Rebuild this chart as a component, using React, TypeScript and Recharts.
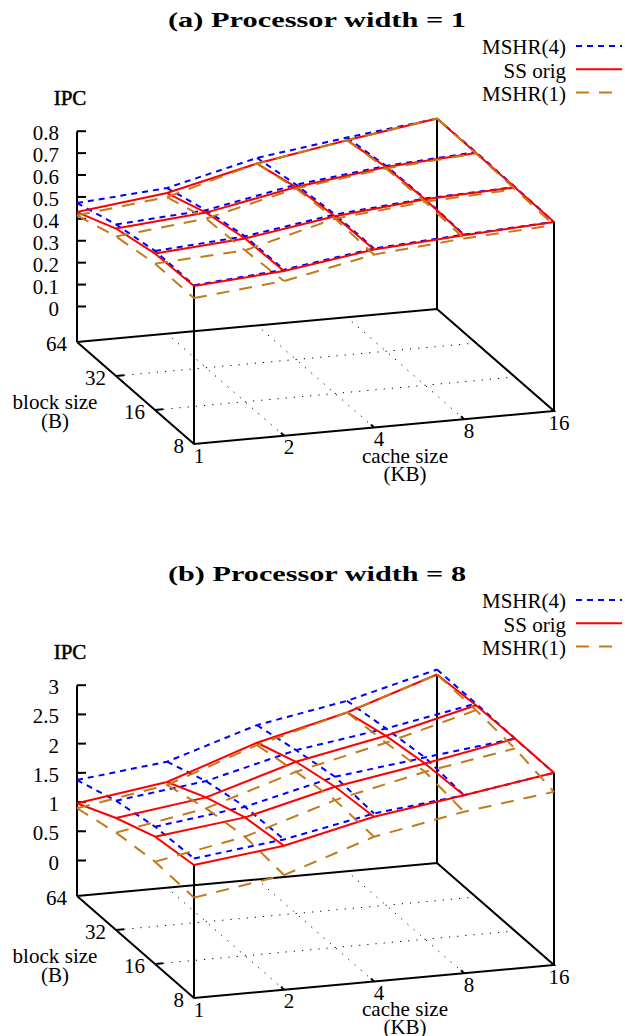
import { ScatterChart, Scatter, XAxis, YAxis } from "recharts"

const blockLabels = ["64", "32", "16", "8"]
const cacheLabels = ["1", "2", "4", "8", "16"]
const legendLabels = ["MSHR(4)", "SS orig", "MSHR(1)"]
const ticksA = ["0", "0.1", "0.2", "0.3", "0.4", "0.5", "0.6", "0.7", "0.8"]
const ticksB = ["0", "0.5", "1", "1.5", "2", "2.5", "3"]
const tickValuesA = [0, 0.1, 0.2, 0.3, 0.4, 0.5, 0.6, 0.7, 0.8]
const tickValuesB = [0, 0.5, 1, 1.5, 2, 2.5, 3]

// IPC, one row per block size (64, 32, 16, 8), one column per cache size (1..16)
const mshr4A = [
  [0.472, 0.503, 0.603, 0.658, 0.707],
  [0.53, 0.557, 0.636, 0.684, 0.709],
  [0.564, 0.593, 0.655, 0.69, 0.705],
  [0.562, 0.596, 0.655, 0.681, 0.701],
]
const origA = [
  [0.431, 0.48, 0.577, 0.646, 0.707],
  [0.511, 0.546, 0.625, 0.679, 0.705],
  [0.552, 0.583, 0.647, 0.687, 0.703],
  [0.559, 0.59, 0.65, 0.678, 0.701],
]
const mshr1A = [
  [0.416, 0.462, 0.577, 0.646, 0.707],
  [0.475, 0.519, 0.618, 0.672, 0.703],
  [0.506, 0.529, 0.636, 0.675, 0.695],
  [0.504, 0.544, 0.627, 0.663, 0.686],
]
const mshr4B = [
  [1.377, 1.55, 2.035, 2.309, 2.703],
  [1.605, 1.8, 2.188, 2.417, 2.703],
  [1.742, 1.942, 2.314, 2.503, 2.686],
  [1.781, 1.965, 2.268, 2.44, 2.681],
]
const origB = [
  [0.979, 1.202, 1.733, 2.11, 2.618],
  [1.309, 1.521, 1.989, 2.292, 2.675],
  [1.571, 1.76, 2.143, 2.4, 2.686],
  [1.668, 1.857, 2.211, 2.44, 2.681],
]
const mshr1B = [
  [0.894, 1.151, 1.693, 2.11, 2.618],
  [1.059, 1.333, 1.818, 2.173, 2.59],
  [1.144, 1.43, 1.915, 2.258, 2.516],
  [1.11, 1.355, 1.87, 2.156, 2.356],
]

const BLUE = "#0000ff"
const RED = "#ff0000"
const BROWN = "#c47a1a"
const BLUE_DASH = "6 5"
const BROWN_DASH = "13 10"
const SERIF = "'Liberation Serif', serif"
const LINE = 2

type Pt = { x: number; y: number }

const NoDot = () => <g />

const TextDot = (props: any) => {
  const p = props.payload
  return (
    <text
      x={props.cx}
      y={props.cy}
      textAnchor={p.anchor}
      dominantBaseline="central"
      fontFamily={SERIF}
      fontSize={p.size || 21}
      fontWeight={p.weight || "normal"}
      textLength={p.fit}
      lengthAdjust="spacingAndGlyphs"
      stroke={p.heavy ? "#000" : undefined}
      strokeWidth={p.heavy ? 0.5 : undefined}
      fill="#000"
    >
      {p.label}
    </text>
  )
}

function seg(key: string, pts: Pt[], stroke: string, width: number, dash?: string) {
  return (
    <Scatter
      key={key}
      data={pts}
      fill="none"
      shape={NoDot}
      line={{ stroke, strokeWidth: width, strokeDasharray: dash }}
      isAnimationActive={false}
    />
  )
}

function Panel({ title, top, height, zMax, ticks, tickValues, series, cacheShift }: {
  title: string
  top: number
  height: number
  zMax: number
  ticks: string[]
  tickValues: number[]
  series: number[][][]
  cacheShift: number
}) {
  // oblique projection of the gnuplot view onto the plot plane
  const floor = (i: number, j: number): Pt => ({ x: 77 + 90 * i + 39 * j, y: 342 - 8.25 * i + 34 * j })
  const at = (i: number, j: number, z: number): Pt => {
    const f = floor(i, j)
    return { x: f.x, y: f.y - 35.5 - (z / zMax) * 175.3 }
  }
  const orig = series[1]

  const texts: any[] = [
    { x: 317, y: 19.5, label: title, anchor: "middle", weight: "bold", fit: 298 },
    { x: 70, y: 97.5, label: "IPC", anchor: "middle", heavy: true },
    { x: 55, y: 402, label: "block size", anchor: "middle", fit: 85 },
    { x: 55, y: 421, label: "(B)", anchor: "middle" },
    { x: 405, y: 456 - cacheShift, label: "cache size", anchor: "middle", fit: 86 },
    { x: 405, y: 474 - cacheShift, label: "(KB)", anchor: "middle" },
  ]
  legendLabels.forEach((label, k) => texts.push({ x: 566, y: 47 + 23.5 * k, label, anchor: "end" }))
  ticks.forEach((label, k) => {
    const p = at(0, 0, tickValues[k])
    texts.push({ x: p.x - 18, y: p.y + 2, label, anchor: "end" })
  })
  blockLabels.forEach((label, j) => {
    const p = floor(0, j)
    texts.push({ x: p.x - 10, y: p.y + 2, label, anchor: "end" })
  })
  cacheLabels.forEach((label, i) => {
    const p = floor(i, 3)
    texts.push({ x: p.x + 5, y: p.y + 11.5, label, anchor: "middle" })
  })

  const marks: any[] = []
  // dotted floor grid
  for (let i = 1; i < 4; i++) marks.push(seg(`gc${i}`, [floor(i, 3), floor(i, 0)], "#000", 1, "1.2 7"))
  for (let j = 1; j < 3; j++) marks.push(seg(`gr${j}`, [floor(0, j), floor(4, j)], "#000", 1, "1.2 7"))
  // box
  marks.push(seg("fl", [floor(0, 0), floor(0, 3), floor(4, 3), floor(4, 0), floor(0, 0)], "#000", LINE))
  marks.push(seg("zaxis", [floor(0, 0), at(0, 0, zMax)], "#000", LINE))
  marks.push(seg("v1", [floor(0, 3), at(0, 3, orig[3][0])], "#000", LINE))
  marks.push(seg("v2", [floor(4, 0), at(4, 0, orig[0][4])], "#000", LINE))
  marks.push(seg("v3", [floor(4, 3), at(4, 3, orig[3][4])], "#000", LINE))
  // ticks
  tickValues.forEach((v, k) => {
    const p = at(0, 0, v)
    marks.push(seg(`zt${k}`, [p, { x: p.x + 9, y: p.y }], "#000", LINE))
  })
  for (let j = 1; j < 3; j++) {
    const p = floor(0, j)
    marks.push(seg(`bt${j}`, [p, { x: p.x + 8, y: p.y - 0.7 }], "#000", LINE))
  }
  for (let i = 1; i < 4; i++) {
    const p = floor(i, 3)
    marks.push(seg(`ct${i}`, [p, { x: p.x - 3, y: p.y - 3 }], "#000", LINE))
  }
  // surfaces
  const styles: [string, string | undefined][] = [[BLUE, BLUE_DASH], [RED, undefined], [BROWN, BROWN_DASH]]
  series.forEach((grid, s) => {
    const [color, dash] = styles[s]
    grid.forEach((row, j) => {
      marks.push(seg(`r${s}-${j}`, row.map((z, i) => at(i, j, z)), color, LINE, dash))
    })
    grid[0].forEach((_, i) => {
      marks.push(seg(`c${s}-${i}`, grid.map((row, j) => at(i, j, row[i])), color, LINE, dash))
    })
    marks.push(seg(`leg${s}`, [{ x: 576, y: 46 + 23.3 * s }, { x: 622, y: 46 + 23.3 * s }], color, LINE, dash))
  })

  return (
    <div style={{ position: "absolute", left: 0, top }}>
      <ScatterChart width={625} height={height} margin={{ top: 0, right: 0, bottom: 0, left: 0 }}>
        <XAxis type="number" dataKey="x" domain={[0, 625]} hide />
        <YAxis type="number" dataKey="y" domain={[0, height]} reversed hide />
        {marks}
        <Scatter data={texts} shape={TextDot} isAnimationActive={false} />
      </ScatterChart>
    </div>
  )
}

export default function App() {
  return (
    <div style={{ position: "absolute", left: 0, top: 0, width: 625, height: 1036, background: "#fff" }}>
      <Panel title="(a) Processor width = 1" top={0} height={554} zMax={0.8} ticks={ticksA} tickValues={tickValuesA} series={[mshr4A, origA, mshr1A]} cacheShift={0} />
      <Panel title="(b) Processor width = 8" top={554} height={482} zMax={3} ticks={ticksB} tickValues={tickValuesB} series={[mshr4B, origB, mshr1B]} cacheShift={1.5} />
    </div>
  )
}
